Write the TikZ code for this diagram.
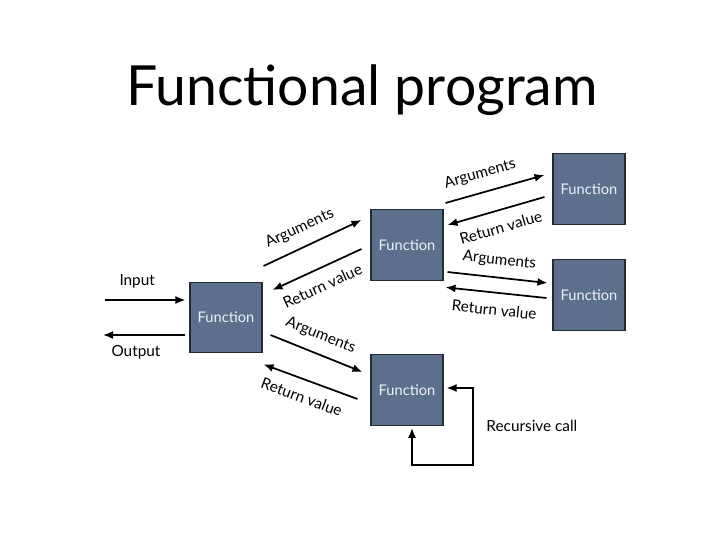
\documentclass[tikz,border=0pt]{standalone}
\usepackage{fontspec}
\setmainfont{Lato}
\usetikzlibrary{positioning, arrows.meta}
\definecolor{fnblue}{RGB}{92,112,142}
\definecolor{fnedge}{RGB}{38,42,50}
\definecolor{fntext}{RGB}{236,241,248}

\begin{document}
\begin{tikzpicture}[x=0.75pt, y=-0.75pt, >={Latex[length=7.5pt, width=6pt]},
                    arr/.style={line width=1.3pt, ->},
                    lbl/.style={font=\fontsize{11.5}{13}\selectfont, inner sep=3pt}]

    \useasboundingbox (0,0) rectangle (728,546); % slide size, in px

    \node (title) [anchor=base, font=\fontsize{41.5}{48}\selectfont] at (362,105) {Functional program};

    % the five function boxes, all the same size
    \begin{scope}[every node/.style={draw=fnedge, fill=fnblue, text=fntext, line width=0.8pt,
                  minimum width=54pt, minimum height=53pt, inner sep=0pt,
                  font=\fontsize{11}{12}\selectfont}]

    \node (main)  at (226,317.5) {Function}; % called from outside
    \node (fa)    at (407,245)   {Function};
    \node (faa)   at (589,189)   {Function};
    \node (fab)   at (589,295)   {Function};
    \node (fb)    at (407,390)   {Function}; % calls itself

    \end{scope}

    % loose ends of input and output
    \coordinate (in)  at (105,300);
    \coordinate (out) at (103,335);

    \draw [arr] (in) -- node [lbl, above=5pt, pos=0.4] (input) {Input} ([shift={(-4,-17.5)}]main.west);
    \draw [arr] ([shift={(-4,17.5)}]main.west) -- node [lbl, below=4pt, pos=0.6] (output) {Output} (out);

    % main <-> fa
    \draw [arr] ([shift={(1,-51.5)}]main.east) -- node [lbl, above=5pt, sloped, pos=0.45] (argA) {Arguments} ([shift={(-9,-25)}]fa.west);
    \draw [arr] ([shift={(-9,4)}]fa.west) -- node [lbl, below=5pt, sloped, pos=0.52] (retA) {Return value} ([shift={(10,-27.5)}]main.east);

    % fa <-> faa
    \draw [arr] ([shift={(2,-42)}]fa.east) -- node [lbl, above=5pt, sloped, pos=0.4] (argAA) {Arguments} ([shift={(-8,-14)}]faa.west);
    \draw [arr] ([shift={(-8,8)}]faa.west) -- node [lbl, below=5pt, sloped] (retAA) {Return value} ([shift={(4,-20)}]fa.east);

    % fa <-> fab
    \draw [arr] ([shift={(4,27)}]fa.east) -- node [lbl, above=4pt, sloped] (argAB) {Arguments} ([shift={(-5,-12)}]fab.west);
    \draw [arr] ([shift={(-6,3)}]fab.west) -- node [lbl, below=5pt, sloped] (retAB) {Return value} ([shift={(2,6.5)}]fa.south east);

    % main <-> fb
    \draw [arr] ([shift={(8,17.5)}]main.east) -- node [lbl, above=5pt, sloped, pos=0.47] (argB) {Arguments} ([shift={(-8,-18)}]fb.west);
    \draw [arr] ([shift={(-13,9)}]fb.west) -- node [lbl, below=5pt, sloped, pos=0.53] (retB) {Return value} ([shift={(1,11)}]main.south east);

    % recursion loop
    \draw [arr, <->] ([shift={(5,2)}]fb.south) |- ++(61,37) |- ([shift={(3,-2)}]fb.east);
    \node (rec) [lbl, right=29pt of fb.south east] {Recursive call};

\end{tikzpicture}
\end{document}
